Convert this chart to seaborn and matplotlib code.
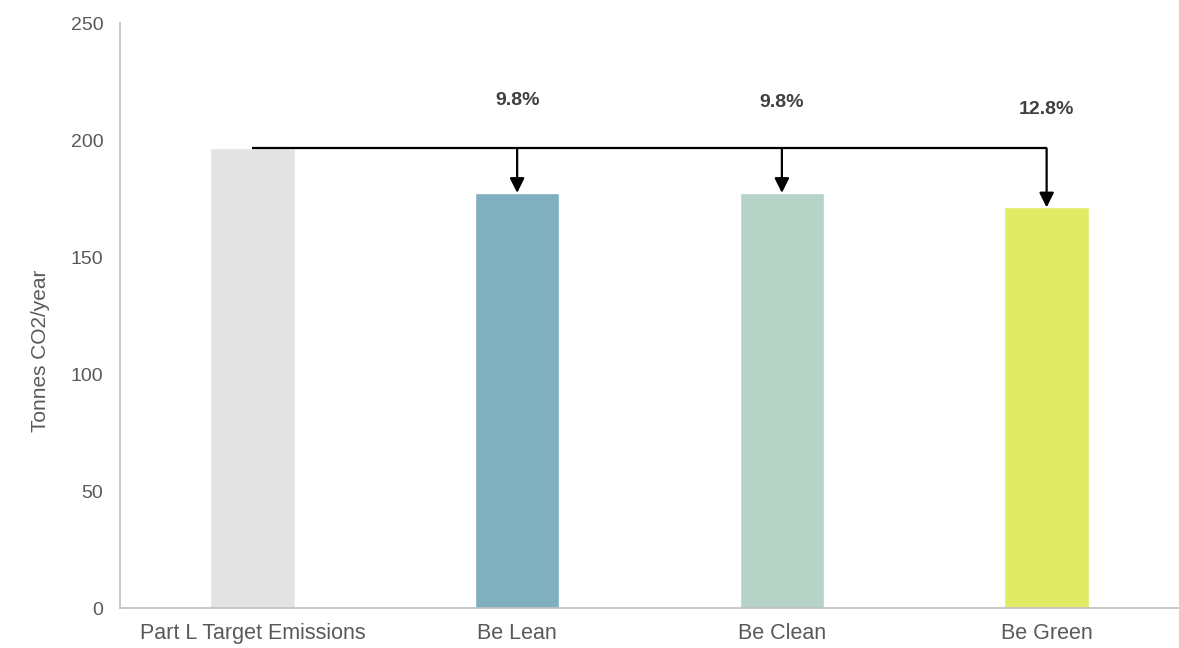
import matplotlib
matplotlib.use("Agg")
import matplotlib.pyplot as plt
import seaborn as sns
import pandas as pd

categories = ["Part L Target Emissions", "Be Lean", "Be Clean", "Be Green"]
values = [196.4, 177.4, 177.4, 171.2]
pct_labels = ["", "9.8%", "9.8%", "12.8%"]
label_y = [None, 217, 216, 213]
colors = ["#e3e3e3", "#80afc0", "#b5d3c7", "#e1eb64"]

sns.set_theme(style="white")
plt.rcParams["font.family"] = ["Liberation Sans", "DejaVu Sans"]

df = pd.DataFrame({"cat": categories, "val": values})

fig = plt.figure(figsize=(11.79, 6.48), dpi=100)
ax = fig.add_axes([0.1018, 0.0617, 0.8982, 0.9028])

sns.barplot(data=df, x="cat", y="val", hue="cat", palette=colors,
            width=0.32, legend=False, ax=ax, saturation=1)

ax.set_xlim(-0.5, 3.5)
ax.set_ylim(0, 250)
ax.set_yticks([0, 50, 100, 150, 200, 250])
ax.set_xlabel("")
ax.set_ylabel("Tonnes CO2/year", color="#595959", fontsize=15)
ax.yaxis.set_label_coords(-0.066, 0.44)
ax.tick_params(axis="y", colors="#595959", labelsize=14, length=0, pad=12)
ax.tick_params(axis="x", colors="#595959", labelsize=15.5, length=0, pad=11)

for s in ["top", "right"]:
    ax.spines[s].set_visible(False)
for s in ["left", "bottom"]:
    ax.spines[s].set_color("#bfbfbf")
    ax.spines[s].set_linewidth(1.2)

base = values[0]
ax.plot([0, len(values) - 1], [base, base], color="black", lw=1.6, solid_capstyle="butt")
for i in range(1, len(values)):
    ax.annotate("", xy=(i, values[i]), xytext=(i, base),
                arrowprops=dict(arrowstyle="-|>", color="black", lw=1.6,
                                mutation_scale=22, shrinkA=0, shrinkB=0))
    ax.text(i, label_y[i], pct_labels[i], ha="center", va="center",
            fontsize=14, fontweight="bold", color="#404040")

fig.savefig("out.png", dpi=100)
